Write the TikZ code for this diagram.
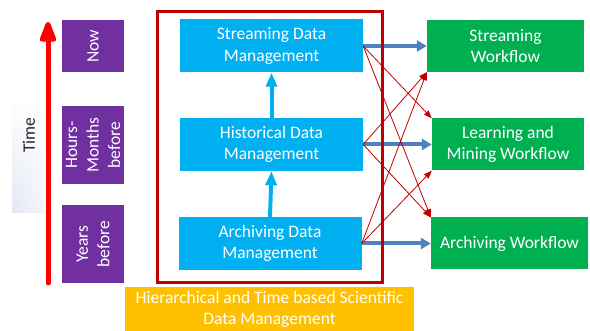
\documentclass[tikz,border=0pt]{standalone}
\usepackage{fontspec}
\setmainfont{Carlito}
\usetikzlibrary{arrows.meta,shadings}
\definecolor{mgmtcyan}{HTML}{00B0F0}
\definecolor{flowgreen}{HTML}{00B050}
\definecolor{erapurple}{HTML}{7030A0}
\definecolor{titleorange}{HTML}{FFC000}
\definecolor{framered}{HTML}{C00000}
\definecolor{feedblue}{HTML}{4F81BD}
\definecolor{timeshade}{HTML}{E2E7F3}
\begin{document}
\begin{tikzpicture}[x=1pt,y=-1pt,
  lbl/.style={text=white, align=center, inner sep=0pt,
    font=\fontsize{17.5}{21.5}\selectfont},
  mgmt/.style={lbl, fill=mgmtcyan, minimum width=183pt, minimum height=53pt},
  flow/.style={lbl, fill=flowgreen, minimum height=52pt},
  era/.style={lbl, fill=erapurple, rotate=90, minimum height=62pt},
  feed/.style={draw=feedblue, line width=4pt,
    -{Triangle[width=11pt,length=10pt]}},
  promote/.style={draw=mgmtcyan, line width=4pt,
    -{Triangle[width=11pt,length=14pt]}},
  cross/.style={draw=framered, line width=0.8pt,
    -{Triangle[width=6pt,length=8pt]}}
]
\useasboundingbox (0,0) rectangle (590,331);

% time axis
\shade[lower left=timeshade, upper left=white, upper right=white, lower right=white!60!timeshade]
  (12,97) rectangle (45,213);
\node[rotate=90, font=\fontsize{17.5}{21}\selectfont, text=black!85] (timelbl) at (29,135) {Time};
\coordinate (tstart) at (48,283);
\coordinate (tend) at (48,22);
\draw[red, line width=5pt, line cap=round,
  -{Triangle[width=17pt,length=25pt,round=false]}] (tstart) -- (tend);

% periods
\node[era, minimum width=52pt] (now) at (93,46) {Now};
\node[era, minimum width=78pt] (hours) at (93,145) {Hours-\\Months\\before};
\node[era, minimum width=78pt] (years) at (93,244) {Years\\before};

% title banner
\fill[titleorange] (125,287) rectangle (414,340);
\node[lbl] (title) at (269.5,309.5) {Hierarchical and Time based Scientific\\Data Management};

% data management layers
\node[mgmt] (stream) at (271.5,46) {Streaming Data\\Management};
\node[mgmt] (hist) at (271.5,144.5) {Historical Data\\Management};
\node[mgmt] (arch) at (270,243.5) {Archiving Data\\Management};

% workflows
\node[flow, minimum width=157pt] (swf) at (505.5,46) {Streaming\\Workflow};
\node[flow, minimum width=152pt] (lwf) at (508,144.5) {Learning and\\Mining Workflow};
\node[flow, minimum width=157pt] (awf) at (509.5,243.5) {Archiving Workflow};

% promotion between layers
\draw[promote] (hist.north) -- (stream.south);
\draw[promote] (arch.north) -- (hist.south);

% direct feeds
\draw[feed] (stream.east) -- (swf.west);
\draw[feed] (hist.east) -- (lwf.west);
\draw[feed] (arch.east) -- (awf.west);

% layer frame
\draw[framered, line width=3pt] (157,12) rectangle (382,283);

% cross feeds
\draw[cross] (stream.east) -- (lwf.north west);
\draw[cross] (stream.east) -- (awf.north west);
\draw[cross] (hist.east) -- (swf.south west);
\draw[cross] (hist.east) -- (awf.north west);
\draw[cross] (arch.east) -- (swf.south west);
\draw[cross] (arch.east) -- (lwf.south west);
\end{tikzpicture}
\end{document}
